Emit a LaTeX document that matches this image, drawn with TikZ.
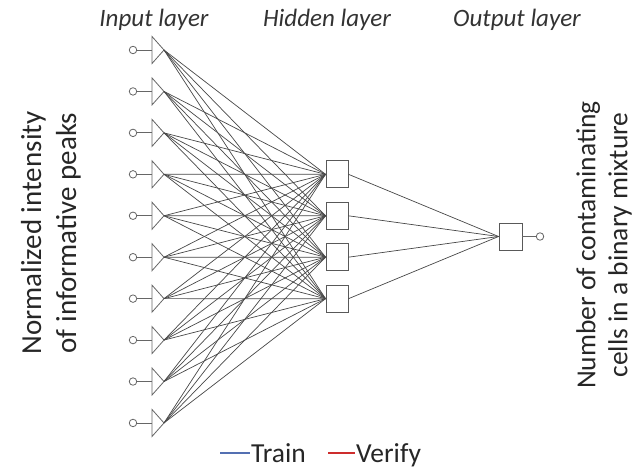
\documentclass[tikz,border=0pt]{standalone}
\usepackage{fontspec}
\setmainfont{Carlito}
\definecolor{trainblue}{RGB}{84,112,178}
\definecolor{verifyred}{RGB}{205,45,45}
\begin{document}
\begin{tikzpicture}[x=1pt,y=-1pt,
  unit/.style={draw=black!60, line width=0.8pt, fill=white},
  port/.style={circle, draw=black!60, line width=0.8pt, fill=white, inner sep=0pt, minimum size=7.5pt},
  cellbox/.style={rectangle, draw=black!65, line width=0.9pt, fill=white, inner sep=0pt, minimum width=22pt, minimum height=27pt},
  wire/.style={draw=black!72, line width=0.7pt},
  stub/.style={draw=black!60, line width=0.8pt},
  title/.style={font=\itshape\fontsize{25}{30}\selectfont, text=black!80, anchor=base, inner sep=0pt},
  axislabel/.style={text=black!85, align=center, rotate=90},
  legendline/.style={line width=1.3pt},
  legendtext/.style={font=\fontsize{27.5}{32}\selectfont, text=black!85, anchor=base west, inner sep=0pt}]
\useasboundingbox (0,0) rectangle (634,473);

% input units: port circle, stub and triangle
\foreach \i in {0,...,9}{
  \pgfmathsetmacro{\yy}{50+\i*41.44}
  \node[port] (in\i) at (133,\yy) {};
  \coordinate (tb\i) at (152,\yy);
  \coordinate (tri\i) at (164,\yy);
  \draw[stub] (in\i) -- (tb\i);
  \draw[unit] (152,\yy-13.5) -- (164,\yy) -- (152,\yy+13.5) -- cycle;
}

% hidden units
\foreach \j/\yy in {0/174.3,1/215.8,2/257.2,3/298.7}{
  \node[cellbox] (h\j) at (337,\yy) {};
}

% input -> hidden connections
\foreach \i in {0,...,9}{
  \foreach \j in {0,...,3}{
    \draw[wire] (tri\i) -- (h\j.west);
  }
}

% output unit
\node[cellbox, minimum width=23pt] (out) at (510.5,236.5) {};
\node[port] (outp) at (540,236.5) {};
\foreach \j in {0,...,3}{
  \draw[wire] (h\j.east) -- (out.west);
}
\draw[stub] (out.east) -- (outp);

% layer titles
\node[title] (tin) at (154,26.5) {Input layer};
\node[title] (thid) at (327,26.5) {Hidden layer};
\node[title] (tout) at (517,26.5) {Output layer};

% axis descriptions
\node[axislabel, font=\fontsize{29}{35}\selectfont] (lin) at (51,233) {Normalized intensity\\of informative peaks};
\node[axislabel, font=\fontsize{27.5}{32}\selectfont] (lout) at (604,245) {Number of contaminating\\cells in a binary mixture};

% legend
\coordinate (lb0) at (220,453);
\coordinate (lb1) at (250,453);
\coordinate (lr0) at (328,453);
\coordinate (lr1) at (355,453);
\draw[legendline, trainblue] (lb0) -- (lb1);
\node[legendtext] (ltrain) at (251,462) {Train};
\draw[legendline, verifyred] (lr0) -- (lr1);
\node[legendtext] (lverify) at (356,462) {Verify};
\end{tikzpicture}
\end{document}
